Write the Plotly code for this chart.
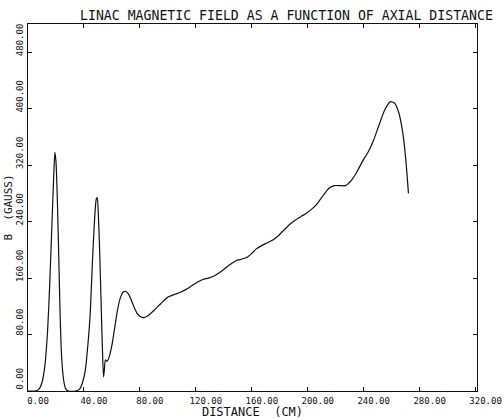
import plotly.graph_objects as go

# Axial distance (cm) and magnetic field (gauss)
distance_cm = [0, 5, 8, 10, 12, 14, 15.5, 17, 18.3, 19.2, 20, 21, 22, 23, 24, 25.5, 27, 29,
               34, 37, 39, 41, 43, 44.5, 46, 47.5, 48.8, 49.5, 50.3, 51.2, 52.2, 53.2, 54,
               54.6, 55.3, 56.5, 58, 60, 62, 64, 66, 68, 70, 72, 74, 76, 78, 80, 83, 86,
               90, 95, 100, 105, 109, 113, 117, 121, 125, 129, 133, 137, 141, 145, 149,
               153, 157, 160, 163, 167, 171, 175, 179, 183, 187, 191, 195, 199, 203, 207,
               211, 215, 219, 223, 227, 231, 235, 239, 243, 247, 251, 255, 259, 262, 265,
               268, 270, 272]
field_gauss = [0, 0, 3, 12, 35, 85, 150, 230, 300, 338, 325, 270, 190, 105, 50, 15, 3, 0,
               0, 3, 12, 30, 70, 110, 180, 240, 272, 274, 250, 200, 130, 60, 20,
               30, 44, 42, 48, 65, 90, 115, 132, 140, 141, 137, 128, 118, 110, 106, 104, 107,
               114, 124, 133, 137, 140, 144, 149, 154, 158, 160, 163, 168, 174, 180, 185,
               187, 190, 195, 201, 206, 210, 214, 220, 228, 236, 242, 247, 252, 258, 266,
               277, 287, 291, 291, 291, 298, 310, 325, 338, 355, 377, 398, 410, 408, 395,
               365, 330, 280]

x_ticks = [0, 40, 80, 120, 160, 200, 240, 280, 320]
y_ticks = [0, 80, 160, 240, 320, 400, 480]

title_text = "LINAC MAGNETIC FIELD AS A FUNCTION OF AXIAL DISTANCE"
x_title = "DISTANCE  (CM)"
y_title = "B  (GAUSS)"

FONT = "DejaVu Sans Mono"

fig = go.Figure()
fig.add_trace(go.Scatter(
    x=distance_cm, y=field_gauss, mode="lines",
    line=dict(color="#111111", width=1.2, shape="spline", smoothing=0.6),
    showlegend=False, hoverinfo="skip"))

axis_common = dict(
    showline=True, linecolor="#111111", linewidth=1, mirror="ticks",
    ticks="inside", ticklen=4, tickcolor="#111111", tickwidth=1,
    showgrid=False, zeroline=False, tickformat=".2f", automargin=False,
    tickfont=dict(family=FONT, size=9, color="#111111"),
)

fig.update_layout(
    width=503, height=419,
    margin=dict(l=28, r=26, t=24, b=28),
    paper_bgcolor="white", plot_bgcolor="white",
    title=dict(text=title_text, x=80 / 503, xanchor="left", xref="container",
               y=1 - 15 / 419, yanchor="middle", yref="container", automargin=False,
               font=dict(family=FONT, size=13.2, color="#111111")),
    xaxis=dict(range=[0, 321], tickvals=x_ticks, ticklabelshift=10,
               ticklabelstandoff=1,
               title=dict(text=x_title, standoff=0,
                          font=dict(family=FONT, size=12, color="#111111")),
               **axis_common),
    yaxis=dict(range=[0, 520], tickvals=y_ticks, tickangle=-90,
               ticklabelshift=-11, ticklabelstandoff=0,
               title=dict(text=y_title, standoff=0,
                          font=dict(family=FONT, size=11, color="#111111")),
               **axis_common),
)

fig.write_html("out.html", config={"displayModeBar": False},
               post_script="document.body.style.margin='0';")
